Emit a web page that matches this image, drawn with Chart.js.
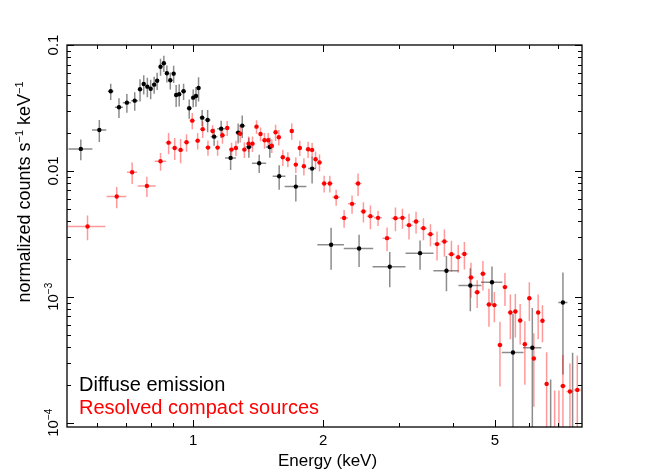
<!DOCTYPE html>
<html>
<head>
<meta charset="utf-8">
<title>Spectrum</title>
<script src="https://cdn.jsdelivr.net/npm/chart.js@4.4.1/dist/chart.umd.min.js"></script>
<style>
  html, body { margin: 0; padding: 0; background: #fff; }
  canvas { display: block; }
</style>
</head>
<body>
<canvas id="spectrum" width="658" height="474"></canvas>
<script>
// Diffuse emission (black)
const diffuseEnergy = [
  0.549, 0.606, 0.644, 0.673, 0.702, 0.732, 0.753, 0.768, 0.783, 0.797,
  0.812, 0.825, 0.840, 0.855, 0.869, 0.885, 0.901, 0.913, 0.928, 0.950,
  0.979, 1.000, 1.015, 1.029, 1.049, 1.080, 1.118, 1.161, 1.221, 1.271,
  1.299, 1.346, 1.422, 1.505, 1.582, 1.729, 1.886, 2.087, 2.423, 2.854,
  3.355, 3.862, 4.387, 4.924, 5.508, 6.107, 6.734, 7.190, 7.571
];
const diffuseEnergyErr = [
  0.035, 0.023, 0.0096, 0.0143, 0.015, 0.0136, 0.008, 0.0074, 0.0075, 0.0072,
  0.0074, 0.007, 0.0072, 0.0073, 0.0074, 0.008, 0.0072, 0.0068, 0.0089, 0.0127,
  0.013, 0.0085, 0.007, 0.0099, 0.014, 0.017, 0.02, 0.025, 0.036, 0.017,
  0.021, 0.025, 0.054, 0.032, 0.054, 0.10, 0.04, 0.148, 0.19, 0.25,
  0.25, 0.26, 0.27, 0.28, 0.32, 0.30, 0.315, 0.175, 0.18
];
const diffuseFlux = [
  0.01495, 0.02115, 0.04291, 0.03203, 0.03483, 0.03613, 0.04451, 0.04902, 0.04667, 0.04498,
  0.04841, 0.05207, 0.06727, 0.07158, 0.05963, 0.05246, 0.05920, 0.04011, 0.04062, 0.04291,
  0.03144, 0.03817, 0.03937, 0.04555, 0.02649, 0.02540, 0.01871, 0.02166, 0.01268, 0.02014,
  0.02288, 0.01550, 0.01151, 0.01550, 0.009076, 0.007502, 0.01043, 0.002587, 0.002416, 0.001730,
  0.002222, 0.001608, 0.001229, 0.001303, 0.0003613, 0.0003936, 0.00008, 0.0009015, 0.00005
];
const diffuseFluxErr = [
  0.0028, 0.0042, 0.0063, 0.0057, 0.0059, 0.0061, 0.0089, 0.0086, 0.0082, 0.0079,
  0.0075, 0.0081, 0.0104, 0.0105, 0.0092, 0.0081, 0.0092, 0.0080, 0.0081, 0.0063,
  0.0055, 0.0061, 0.0071, 0.0099, 0.0039, 0.0051, 0.0029, 0.0034, 0.0025, 0.0036,
  0.0046, 0.0028, 0.0019, 0.0028, 0.0020, 0.0018, 0.0025, 0.00095, 0.00069, 0.00054,
  0.00058, 0.0005, 0.00046, 0.00044, 0.00037, 0.00042, 0.00014, 0.00066, 0.00031
];

// Resolved compact sources (red)
const compactEnergy = [
  0.569, 0.665, 0.722, 0.781, 0.840, 0.877, 0.906, 0.935, 0.965, 0.995,
  1.024, 1.052, 1.082, 1.109, 1.139, 1.169, 1.199, 1.227, 1.256, 1.285,
  1.314, 1.344, 1.372, 1.402, 1.432, 1.463, 1.492, 1.521, 1.552, 1.579,
  1.613, 1.657, 1.692, 1.729, 1.766, 1.805, 1.846, 1.886, 1.921, 1.962,
  2.011, 2.073, 2.144, 2.237, 2.334, 2.410, 2.480, 2.574, 2.681, 2.813,
  2.942, 3.054, 3.163, 3.284, 3.416, 3.546, 3.673, 3.820, 3.966, 4.112,
  4.250, 4.402, 4.550, 4.692, 4.845, 4.987, 5.138, 5.277, 5.431, 5.578,
  5.723, 5.868, 6.010, 6.156, 6.300, 6.446, 6.591, 6.879, 7.038, 7.190,
  7.464, 7.763
];
const compactEnergyErr = [
  0.057, 0.035, 0.0195, 0.037, 0.026, 0.014, 0.0145, 0.015, 0.0143, 0.0143,
  0.0141, 0.0145, 0.0143, 0.0147, 0.0151, 0.0149, 0.0146, 0.0143, 0.0146, 0.0143,
  0.0146, 0.0142, 0.0145, 0.0149, 0.0152, 0.0147, 0.015, 0.0153, 0.0148, 0.015,
  0.0188, 0.0202, 0.0179, 0.0183, 0.0187, 0.0191, 0.0205, 0.02, 0.0183, 0.0208,
  0.0266, 0.033, 0.04, 0.047, 0.049, 0.045, 0.039, 0.048, 0.057, 0.067,
  0.062, 0.057, 0.059, 0.063, 0.065, 0.066, 0.068, 0.073, 0.074, 0.072,
  0.072, 0.075, 0.072, 0.075, 0.072, 0.074, 0.071, 0.073, 0.075, 0.074,
  0.07, 0.072, 0.07, 0.072, 0.073, 0.072, 0.073, 0.07, 0.07, 0.114,
  0.138, 0.144
];
const compactFlux = [
  0.003613, 0.006252, 0.009766, 0.007603, 0.01194, 0.01677, 0.01522, 0.01468, 0.01689, 0.02507,
  0.01739, 0.02146, 0.01531, 0.02077, 0.01531, 0.01920, 0.02194, 0.01476, 0.01522, 0.01973,
  0.01476, 0.01646, 0.01646, 0.02247, 0.01966, 0.01752, 0.01752, 0.01587, 0.02028, 0.01851,
  0.01284, 0.01238, 0.02077, 0.01122, 0.01522, 0.01090, 0.01487, 0.01468, 0.01238, 0.01168,
  0.007932, 0.007932, 0.006185, 0.004221, 0.005471, 0.007932, 0.004753, 0.004370, 0.004236, 0.002923,
  0.004212, 0.004236, 0.003707, 0.003959, 0.003509, 0.003145, 0.002620, 0.002747, 0.002182, 0.002065,
  0.002186, 0.001423, 0.001086, 0.001522, 0.0008686, 0.0008591, 0.0004137, 0.001194, 0.0007505, 0.0007643,
  0.0006472, 0.0004198, 0.0009729, 0.0003237, 0.0007505, 0.0006449, 0.0002032, 0.00008, 0.00008, 0.0001956,
  0.0001768, 0.0001821
];
const compactFluxErr = [
  0.0008, 0.0012, 0.0019, 0.0014, 0.0019, 0.0032, 0.003, 0.0032, 0.0027, 0.0037,
  0.0026, 0.0032, 0.0021, 0.0023, 0.0021, 0.0028, 0.003, 0.002, 0.0021, 0.0029,
  0.0021, 0.0023, 0.0023, 0.0028, 0.0025, 0.0025, 0.0025, 0.002, 0.003, 0.0026,
  0.0019, 0.0017, 0.0031, 0.0016, 0.0021, 0.0017, 0.0022, 0.002, 0.0019, 0.0018,
  0.0012, 0.0012, 0.0009, 0.00068, 0.0009, 0.0016, 0.00087, 0.00093, 0.00058, 0.00062,
  0.0009, 0.00077, 0.00085, 0.00078, 0.0007, 0.00063, 0.00068, 0.00067, 0.0006, 0.00051,
  0.00054, 0.00044, 0.00027, 0.0004, 0.00029, 0.00023, 0.00022, 0.00035, 0.00029, 0.00029,
  0.00023, 0.00022, 0.00033, 0.00019, 0.00029, 0.00021, 0.00016, 0.0001, 0.0001, 0.00015,
  0.00012, 0.00016
];

// Axes
const xMajorTicks = [1, 2, 5];
const xTickLabels = ["1", "2", "5"];
const xMinorTicks = [0.6, 0.7, 0.8, 0.9, 3, 4, 6, 7];
const yMajorTicks = [0.1, 0.01, 0.001, 0.0001];
const yTickText = ["0.1", "0.01", "10", "10"];
const yTickSup = ["", "", "\u22123", "\u22124"];
const yMinorSteps = [2, 3, 4, 5, 6, 7, 8, 9];
const yMinorDecades = [0.0001, 0.001, 0.01];

const seriesNames = ["Diffuse emission", "Resolved compact sources"];
const seriesColors = ["#000000", "#ff0000"];
const barColors = ["rgba(0, 0, 0, 0.45)", "rgba(255, 0, 0, 0.4)"];

const fontFamily = '"Liberation Sans", Arial, Helvetica, sans-serif';

const toPoints = (xs, ys) => xs.map((x, i) => ({ x, y: ys[i] }));

// draws text with superscripts, centred on 0,0 in the current transform
const drawRich = (ctx, parts, size, supSize, rise) => {
  ctx.textAlign = "left";
  const widths = parts.map((p) => {
    ctx.font = `${p.sup ? supSize : size}px ${fontFamily}`;
    return ctx.measureText(p.t).width;
  });
  let x = -widths.reduce((a, b) => a + b, 0) / 2;
  parts.forEach((p, i) => {
    ctx.font = `${p.sup ? supSize : size}px ${fontFamily}`;
    ctx.fillText(p.t, x, p.sup ? -rise : 0);
    x += widths[i];
  });
};

const errorBars = {
  id: "errorBars",
  beforeDatasetsDraw(chart) {
    const { ctx, chartArea: a, scales: { x, y } } = chart;
    ctx.save();
    ctx.beginPath();
    ctx.rect(a.left, a.top, a.right - a.left, a.bottom - a.top);
    ctx.clip();
    chart.data.datasets.forEach((ds) => {
      ctx.strokeStyle = ds.barColor;
      ctx.lineWidth = 1.5;
      ds.data.forEach((p, i) => {
        const px = x.getPixelForValue(p.x);
        const py = y.getPixelForValue(p.y);
        const hi = y.getPixelForValue(p.y + ds.yErr[i]);
        const low = p.y - ds.yErr[i];
        const lo = low > 0 ? y.getPixelForValue(low) : a.bottom + 10;
        const left = x.getPixelForValue(p.x - ds.xErr[i]);
        const right = x.getPixelForValue(p.x + ds.xErr[i]);
        ctx.beginPath();
        ctx.moveTo(px, hi);
        ctx.lineTo(px, lo);
        ctx.moveTo(left, py);
        ctx.lineTo(right, py);
        ctx.stroke();
      });
    });
    ctx.restore();
  }
};

const frame = {
  id: "frame",
  afterDraw(chart) {
    const { ctx, chartArea: a, scales: { x, y } } = chart;
    ctx.save();
    ctx.strokeStyle = "#000";
    ctx.lineWidth = 1;
    const tick = (len) => (v) => {
      const px = Math.round(x.getPixelForValue(v)) + 0.5;
      ctx.beginPath();
      ctx.moveTo(px, a.bottom);
      ctx.lineTo(px, a.bottom - len);
      ctx.moveTo(px, a.top);
      ctx.lineTo(px, a.top + len);
      ctx.stroke();
    };
    xMajorTicks.forEach(tick(7));
    xMinorTicks.forEach(tick(4));
    const ytick = (len) => (v) => {
      const py = Math.round(y.getPixelForValue(v)) + 0.5;
      ctx.beginPath();
      ctx.moveTo(a.left, py);
      ctx.lineTo(a.left + len, py);
      ctx.moveTo(a.right, py);
      ctx.lineTo(a.right - len, py);
      ctx.stroke();
    };
    yMajorTicks.forEach(ytick(7));
    yMinorDecades.forEach((d) => yMinorSteps.forEach((m) => ytick(4)(m * d)));

    ctx.lineWidth = 1.3;
    ctx.strokeRect(a.left, a.top, a.right - a.left, a.bottom - a.top);

    ctx.fillStyle = "#000";
    ctx.textAlign = "center";
    ctx.textBaseline = "alphabetic";
    ctx.font = `15px ${fontFamily}`;
    xMajorTicks.forEach((v, i) => {
      ctx.fillText(xTickLabels[i], x.getPixelForValue(v), a.bottom + 18);
    });
    ctx.font = `17px ${fontFamily}`;
    ctx.fillText("Energy (keV)", (a.left + a.right) / 2 + 3, 466);

    yMajorTicks.forEach((v, i) => {
      ctx.save();
      ctx.translate(a.left - 9, y.getPixelForValue(v));
      ctx.rotate(-Math.PI / 2);
      const parts = [{ t: yTickText[i] }];
      if (yTickSup[i]) parts.push({ t: yTickSup[i], sup: true });
      drawRich(ctx, parts, 15, 10, 6);
      ctx.restore();
    });

    ctx.save();
    ctx.translate(30, 192);
    ctx.rotate(-Math.PI / 2);
    drawRich(ctx, [
      { t: "normalized counts s" },
      { t: "\u22121", sup: true },
      { t: " keV" },
      { t: "\u22121", sup: true }
    ], 18, 11, 7);
    ctx.restore();

    ctx.textAlign = "left";
    ctx.font = `20px ${fontFamily}`;
    ctx.fillStyle = seriesColors[0];
    ctx.fillText(seriesNames[0], 79, 391);
    ctx.fillStyle = seriesColors[1];
    ctx.fillText(seriesNames[1], 79, 414);
    ctx.restore();
  }
};

new Chart(document.getElementById("spectrum"), {
  type: "scatter",
  data: {
    datasets: [
      {
        label: seriesNames[0],
        data: toPoints(diffuseEnergy, diffuseFlux),
        xErr: diffuseEnergyErr,
        yErr: diffuseFluxErr,
        barColor: barColors[0],
        backgroundColor: seriesColors[0],
        borderWidth: 0,
        pointRadius: 2.2,
        order: 2
      },
      {
        label: seriesNames[1],
        data: toPoints(compactEnergy, compactFlux),
        xErr: compactEnergyErr,
        yErr: compactFluxErr,
        barColor: barColors[1],
        backgroundColor: seriesColors[1],
        borderWidth: 0,
        pointRadius: 2.2,
        order: 1
      }
    ]
  },
  options: {
    responsive: false,
    animation: false,
    devicePixelRatio: 1,
    layout: { padding: { left: 67, right: 76, top: 45, bottom: 47 } },
    plugins: { legend: { display: false }, tooltip: { enabled: false } },
    scales: {
      x: { type: "logarithmic", min: 0.51, max: 7.96, display: false },
      y: { type: "logarithmic", min: 0.0000924, max: 0.1, display: false }
    }
  },
  plugins: [errorBars, frame]
});
</script>
</body>
</html>
